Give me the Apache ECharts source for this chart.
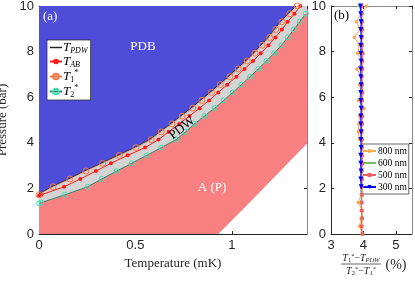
<!DOCTYPE html>
<html><head><meta charset="utf-8">
<script src="https://cdn.jsdelivr.net/npm/echarts@6/dist/echarts.min.js"></script>
<style>html,body{margin:0;padding:0;background:#fff}#c{width:415px;height:283px}</style>
</head><body><div id="c"></div>
<script>
// ---------- panel (a) data : temperature (mK) vs pressure (bar) ----------
const pdwP = [1.76,2.07,2.41,2.76,3.10,3.45,3.79,4.14,4.48,4.83,5.17,5.52,5.86,6.21,6.55,6.90,7.24,7.59,7.93,8.28,8.62,8.97,9.31,9.66,10];
const pdwT = [0,0.065,0.152,0.235,0.322,0.409,0.495,0.574,0.626,0.682,0.734,0.789,0.837,0.887,0.933,0.982,1.025,1.072,1.112,1.150,1.188,1.220,1.252,1.292,1.332];
const t1P = [1.72,2.07,2.41,2.76,3.10,3.45,3.79,4.14,4.48,4.83,5.17,5.52,5.86,6.21,6.55,6.90,7.24,7.59,7.93,8.28,8.62,8.97,9.31,9.66,10];
const t1T = [0,0.073,0.160,0.243,0.330,0.417,0.503,0.582,0.634,0.690,0.742,0.797,0.845,0.895,0.941,0.990,1.033,1.080,1.120,1.158,1.196,1.228,1.260,1.300,1.340];
const tabP = [1.69,1.72,2.07,2.41,2.76,3.10,3.45,3.79,4.14,4.48,4.83,5.17,5.52,5.86,6.21,6.55,6.90,7.24,7.59,7.93,8.28,8.62,8.97,9.31,9.66,10];
const tabT = [0,0.012,0.130,0.214,0.295,0.373,0.460,0.550,0.620,0.672,0.727,0.780,0.833,0.882,0.930,0.976,1.024,1.066,1.110,1.150,1.190,1.226,1.260,1.290,1.325,1.355];
const t2P = [1.34,1.38,1.72,2.07,2.41,2.76,3.10,3.45,3.79,4.14,4.48,4.83,5.17,5.52,5.86,6.21,6.55,6.90,7.24,7.59,7.93,8.28,8.62,8.97,9.31,9.66];
const t2T = [0,0.012,0.134,0.252,0.325,0.403,0.481,0.559,0.635,0.712,0.760,0.807,0.858,0.911,0.958,1.005,1.050,1.095,1.138,1.180,1.220,1.258,1.290,1.322,1.352,1.384];
const tcT = [0.93,1.10,1.25,1.39];
const tcP = [0,1.45,2.75,3.97];
const tMax = 1.39;
const xTicksA = [0,0.5,1];
const yTicks = [0,2,4,6,8,10];

// ---------- panel (b) data : percentage vs pressure ----------
const pGrid = [0,0.34,0.69,1.03,1.38,1.72,2.07,2.41,2.76,3.10,3.45,3.79,4.14,4.48,4.83,5.17,5.52,5.86,6.21,6.55,6.90,7.24,7.59,7.93,8.28,8.62,8.97,9.31,9.66,10];
const nm800 = [3.97,3.88,3.93,3.97,3.84,3.93,3.98,3.95,3.93,3.95,3.93,4.03,3.88,3.84,3.86,3.88,4.02,3.85,3.93,3.88,3.95,3.80,3.98,3.82,3.88,3.72,3.90,3.78,3.93,4.10];
const nm600 = [3.95,3.93,3.96,3.95,3.92,3.94,3.96,3.95,3.94,3.95,3.93,3.96,3.94,3.93,3.95,3.94,3.96,3.93,3.95,3.97,3.94,3.92,3.95,3.93,3.96,3.94,3.92,3.95,3.93,3.88];
const nm500 = [3.97,3.95,3.96,3.94,3.95,3.96,3.95,3.96,3.95,3.97,3.96,3.95,3.96,3.95,3.96,3.97,3.95,3.96,3.97,3.96,3.95,3.97,3.96,3.98,3.96,3.95,3.97,3.96,3.95,3.94];
const p300 = [2.07,2.41,2.76,3.10,3.45,3.79,4.14,4.48,4.83,5.17,5.52,5.86,6.21,6.55,6.90,7.24,7.59,7.93,8.28,8.62,8.97,9.31,9.66,10];
const nm300 = [3.93,3.92,3.93,3.92,3.92,3.93,3.92,3.93,3.92,3.92,3.93,3.92,3.92,3.93,3.92,3.92,3.93,3.92,3.92,3.93,3.92,3.93,3.92,3.91];
const xTicksB = [3,4,5];

// ---------- build ----------
const zip = (xs, ys) => xs.map((x, i) => [x, ys[i]]);
const pdw = zip(pdwT, pdwP), t1 = zip(t1T, t1P), tab = zip(tabT, tabP), t2 = zip(t2T, t2P), tc = zip(tcT, tcP);
const lastT2 = t2[t2.length - 1];
const regions = [
  { color: '#4d4dd9', pts: [[0, 10], ...pdw] },
  { color: '#d4d4d4', pts: [...pdw, [tMax, 10], [tMax, lastT2[1]], ...t2.slice().reverse()] },
  { color: '#f88080', pts: [[0, 0], ...t2, [tMax, lastT2[1]], ...tc.slice().reverse()] }
];

const axisColor = '#262626';
const tickFont = 'Liberation Sans';
const serif = 'Liberation Serif';
function xAx(grid, min, max, interval, show, pos) {
  return {
    type: 'value', gridIndex: grid, min, max, interval, position: pos,
    axisLine: { show: true, onZero: false, lineStyle: { color: show ? axisColor : '#8a8a8a', width: 1 } },
    axisTick: { show: true, inside: true, length: 3, lineStyle: { color: axisColor } },
    axisLabel: { show, color: axisColor, fontFamily: tickFont, fontSize: 13, margin: 5, showMaxLabel: false },
    splitLine: { show: false }
  };
}
function yAx(grid, show, pos) {
  return {
    type: 'value', gridIndex: grid, min: 0, max: 10, interval: 2, position: pos,
    axisLine: { show: true, onZero: false, lineStyle: { color: show ? axisColor : '#8a8a8a', width: 1 } },
    axisTick: { show: true, inside: true, length: 3, lineStyle: { color: axisColor } },
    axisLabel: { show, color: axisColor, fontFamily: tickFont, fontSize: 13, margin: 5 },
    splitLine: { show: false }
  };
}
const xa0 = xAx(0, 0, tMax, 0.5, true, 'bottom');
xa0.name = 'Temperature (mK)'; xa0.nameLocation = 'middle'; xa0.nameGap = 21;
xa0.nameTextStyle = { fontFamily: serif, fontSize: 13, color: axisColor };
const ya0 = yAx(0, true, 'left');
ya0.name = 'Pressure (bar)'; ya0.nameLocation = 'middle'; ya0.nameGap = 20;
ya0.nameTextStyle = { fontFamily: serif, fontSize: 13, color: axisColor };

const richBase = {
  t: { fontFamily: serif, fontStyle: 'italic', fontSize: 13, color: '#000', lineHeight: 15 },
  sub: { fontFamily: serif, fontStyle: 'italic', fontSize: 8, color: '#000', verticalAlign: 'bottom', lineHeight: 9 },
  subn: { fontFamily: serif, fontSize: 8, color: '#000', verticalAlign: 'bottom', lineHeight: 9 },
  sup: { fontFamily: serif, fontSize: 8, color: '#000', verticalAlign: 'top', lineHeight: 9 }
};
const legendLabels = {
  'T_PDW': '{t|T}{sub|PDW}',
  'T_AB': '{t|T}{sub|AB}',
  'T1': '{t|T}{subn|1}{sup|*}',
  'T2': '{t|T}{subn|2}{sup|*}'
};

const option = {
  animation: false,
  backgroundColor: '#fff',
  grid: [
    { left: 39, top: 6, width: 268, height: 228, containLabel: false, outerBoundsMode: 'none' },
    { left: 331, top: 6, width: 81, height: 228, containLabel: false, outerBoundsMode: 'none' }
  ],
  xAxis: [xa0, xAx(0, 0, tMax, 0.5, false, 'top'), xAx(1, 3, 5.5, 1, true, 'bottom'), xAx(1, 3, 5.5, 1, false, 'top')],
  yAxis: [ya0, yAx(0, false, 'right'), yAx(1, true, 'left'), yAx(1, false, 'right')],
  legend: [
    {
      data: [{ name: 'T_PDW', icon: 'path://M0,0.44H1V0.56H0Z' }, 'T_AB', 'T1', 'T2'], orient: 'vertical', left: 47, top: 40,
      itemWidth: 12, itemHeight: 7, itemGap: 0, padding: [1, 3, 1, 2],
      backgroundColor: '#fff', borderColor: axisColor, borderWidth: 0.7, borderRadius: 0,
      formatter: n => legendLabels[n], textStyle: { padding: [0, 0, 0, -4], rich: richBase }
    },
    {
      data: ['800 nm', '600 nm', '500 nm', '300 nm'], orient: 'vertical', left: 361, top: 144,
      itemWidth: 13, itemHeight: 5, itemGap: 2, padding: [2, 2, 2, 1],
      backgroundColor: '#fff', borderColor: axisColor, borderWidth: 0.7, borderRadius: 0,
      textStyle: { fontFamily: serif, fontSize: 9.5, color: '#000', padding: [0, 0, 0, -3] }
    }
  ],
  series: [
    {
      type: 'custom', xAxisIndex: 0, yAxisIndex: 0, z: 1, silent: true,
      data: regions.map((r, i) => [0, 0, i]),
      renderItem: (params, api) => {
        const r = regions[params.dataIndex];
        return { type: 'polygon', shape: { points: r.pts.map(p => api.coord(p)) }, style: { fill: r.color } };
      }
    },
    {
      name: 'T2', type: 'line', xAxisIndex: 0, yAxisIndex: 0, z: 3, data: t2,
      symbol: 'circle', symbolSize: 5,
      lineStyle: { color: '#2a8a6a', width: 1 },
      itemStyle: { color: 'transparent', borderColor: '#3ee0b0', borderWidth: 1 }
    },
    {
      name: 'T_AB', type: 'line', xAxisIndex: 0, yAxisIndex: 0, z: 4, data: tab,
      symbol: 'circle', symbolSize: 4,
      lineStyle: { color: '#ff1a1a', width: 1 },
      itemStyle: { color: '#ff1a1a' }
    },
    {
      name: 'T_PDW', type: 'line', xAxisIndex: 0, yAxisIndex: 0, z: 5, data: pdw,
      symbol: 'none', lineStyle: { color: '#222', width: 1 }, itemStyle: { color: '#222' }
    },
    {
      name: 'T1', type: 'line', xAxisIndex: 0, yAxisIndex: 0, z: 6, data: t1,
      symbol: 'circle', symbolSize: 6,
      lineStyle: { color: '#f07848', width: 0.6 },
      itemStyle: { color: 'transparent', borderColor: '#f07848', borderWidth: 1 }
    },
    {
      name: '800 nm', type: 'line', xAxisIndex: 2, yAxisIndex: 2, z: 3, data: zip(nm800, pGrid),
      symbol: 'circle', symbolSize: 3.5, lineStyle: { color: '#f8a848', width: 1 }, itemStyle: { color: '#f8a848' }
    },
    {
      name: '600 nm', type: 'line', xAxisIndex: 2, yAxisIndex: 2, z: 4, data: zip(nm600, pGrid),
      symbol: 'path://M0,-1L0.3,-0.3L1,0L0.3,0.3L0,1L-0.3,0.3L-1,0L-0.3,-0.3Z', symbolSize: 5,
      lineStyle: { color: '#6cc060', width: 1 }, itemStyle: { color: '#6cc060' }
    },
    {
      name: '500 nm', type: 'line', xAxisIndex: 2, yAxisIndex: 2, z: 5, data: zip(nm500, pGrid),
      symbol: 'rect', symbolSize: 3.5, lineStyle: { color: '#f06060', width: 1 }, itemStyle: { color: '#f06060' }
    },
    {
      name: '300 nm', type: 'line', xAxisIndex: 2, yAxisIndex: 2, z: 6, data: zip(nm300, p300),
      symbol: 'triangle', symbolRotate: 180, symbolSize: 5, lineStyle: { color: '#0000ff', width: 1 }, itemStyle: { color: '#0000ff' }
    }
  ],
  graphic: [
    { type: 'text', left: 43, top: 10, z: 10, style: { text: '(a)', fill: '#fff', font: '13px "Liberation Serif"' } },
    { type: 'text', left: 334, top: 9, z: 10, style: { text: '(b)', fill: '#000', font: '13px "Liberation Serif"' } },
    { type: 'text', x: 143, y: 47, z: 10, style: { text: 'PDB', fill: '#fff', font: '13px "Liberation Serif"', align: 'center', verticalAlign: 'middle' } },
    { type: 'text', x: 212, y: 188, z: 10, style: { text: 'A (P)', fill: '#fff', font: '13px "Liberation Serif"', align: 'center', verticalAlign: 'middle' } },
    { type: 'text', x: 182, y: 128, rotation: 38 * Math.PI / 180, z: 10, style: { text: 'PDW', fill: '#000', font: '13px "Liberation Serif"', align: 'center', verticalAlign: 'middle' } },
    { type: 'text', x: 361, y: 258, z: 10, style: { text: '{t|T}{subn|1}{sup|*}{m|−}{t|T}{sub|PDW}', align: 'center', verticalAlign: 'middle',
      rich: { t: { fontFamily: serif, fontStyle: 'italic', fontSize: 10, lineHeight: 11, fill: '#262626' }, sub: { fontFamily: serif, fontStyle: 'italic', fontSize: 6.5, verticalAlign: 'bottom', lineHeight: 6, fill: '#262626' }, subn: { fontFamily: serif, fontSize: 6.5, verticalAlign: 'bottom', lineHeight: 6, fill: '#262626' }, sup: { fontFamily: serif, fontSize: 6.5, verticalAlign: 'top', lineHeight: 6, fill: '#262626' }, m: { fontFamily: serif, fontSize: 10, fill: '#262626' } } } },
    { type: 'line', z: 10, shape: { x1: 341, y1: 264, x2: 381, y2: 264 }, style: { stroke: '#262626', lineWidth: 0.7 } },
    { type: 'text', x: 361, y: 271, z: 10, style: { text: '{t|T}{subn|2}{sup|*}{m|−}{t|T}{subn|1}{sup|*}', align: 'center', verticalAlign: 'middle',
      rich: { t: { fontFamily: serif, fontStyle: 'italic', fontSize: 10, lineHeight: 11, fill: '#262626' }, subn: { fontFamily: serif, fontSize: 6.5, verticalAlign: 'bottom', lineHeight: 6, fill: '#262626' }, sup: { fontFamily: serif, fontSize: 6.5, verticalAlign: 'top', lineHeight: 6, fill: '#262626' }, m: { fontFamily: serif, fontSize: 10, fill: '#262626' } } } },
    { type: 'text', x: 396, y: 265, z: 10, style: { text: '(%)', fill: '#262626', font: '14px "Liberation Serif"', align: 'center', verticalAlign: 'middle' } }
  ]
};
const chart = echarts.init(document.getElementById('c'));
chart.setOption(option);
</script></body></html>
